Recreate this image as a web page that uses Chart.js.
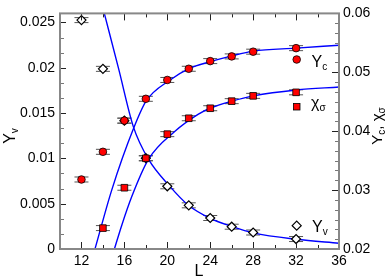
<!DOCTYPE html>
<html>
<head>
<meta charset="utf-8">
<script src="https://cdn.jsdelivr.net/npm/chart.js"></script>
<style>
  body { margin: 0; background: #fff; }
  #wrap { width: 390px; height: 279px; }
</style>
</head>
<body>
<div id="wrap"><canvas id="chart" width="390" height="279"></canvas></div>
<script>
// data
const L = [12, 14, 16, 18, 20, 22, 24, 26, 28, 32];
const Yv = [0.02526, 0.01988, 0.01416, 0.01002, 0.00692, 0.00482, 0.00342, 0.00246, 0.00182, 0.0011];
const Yc = [0.0318, 0.0365, 0.0418, 0.0455, 0.0487, 0.0506, 0.0519, 0.0527, 0.0535, 0.0541];
const chiL = [14, 16, 18, 20, 22, 24, 26, 28, 32];
const chi = [0.02355, 0.0304, 0.0354, 0.0395, 0.0422, 0.0439, 0.0451, 0.0460, 0.0466];

// fitted curves (traced)
const fitVL = [14.13, 15.46, 16.84, 18.24, 20.26, 21.97, 23.99, 26.02, 28.03, 32.02, 36];
const fitV = [0.0260, 0.0199, 0.01348, 0.00991, 0.00688, 0.00482, 0.00338, 0.00249, 0.00178, 0.00107, 0.00064];
const fitCL = [13.26, 14.82, 16.84, 18.02, 20.26, 21.97, 23.99, 26.02, 28.03, 32.02, 36];
const fitC = [0.020, 0.0300, 0.0404, 0.0451, 0.0487, 0.0506, 0.0518, 0.0528, 0.0536, 0.0541, 0.0546];
const fitXL = [15.07, 15.75, 16.69, 18.24, 20.66, 22.9, 23.99, 26.02, 28.03, 32.02, 36];
const fitX = [0.020, 0.0240, 0.0289, 0.0352, 0.0399, 0.0429, 0.0439, 0.0451, 0.0460, 0.0470, 0.0475];

// ticks
const xTicks = [12, 16, 20, 24, 28, 32, 36];
const xMinor = [14, 18, 22, 26, 30, 34];
const yTicks = [0, 0.005, 0.01, 0.015, 0.02, 0.025];
const yLabels = ['0', '0.005', '0.01', '0.015', '0.02', '0.025'];
const y2Ticks = [0.02, 0.03, 0.04, 0.05, 0.06];
const y2Labels = ['0.02', '0.03', '0.04', '0.05', '0.06'];

const pts = (xs, ys) => xs.map((x, i) => ({ x: x, y: ys[i] }));
const FONT = '"Liberation Sans", Arial, sans-serif';

const errorBars = {
    id: 'errorBars',
    beforeDatasetsDraw(chart) {
        const ctx = chart.ctx;
        ctx.save();
        ctx.strokeStyle = '#555';
        ctx.lineWidth = 1;
        chart.data.datasets.forEach((ds, i) => {
            if (!ds.errBars) return;
            chart.getDatasetMeta(i).data.forEach(el => {
                const x = el.x, y = el.y;
                ctx.beginPath();
                ctx.moveTo(x - 7, y - 2.5); ctx.lineTo(x + 7, y - 2.5);
                ctx.moveTo(x - 7, y + 2.5); ctx.lineTo(x + 7, y + 2.5);
                ctx.moveTo(x, y - 2.5); ctx.lineTo(x, y + 2.5);
                ctx.stroke();
            });
        });
        ctx.restore();
    }
};

function richText(ctx, parts, x, y, rot, size, align) {
    ctx.save();
    ctx.translate(x, y);
    ctx.rotate(rot);
    ctx.fillStyle = '#000';
    ctx.textBaseline = 'alphabetic';
    ctx.textAlign = 'left';
    let w = 0;
    parts.forEach(p => {
        ctx.font = (p.sub ? Math.round(size * 0.65) : size) + 'px ' + FONT;
        w += ctx.measureText(p.t).width;
    });
    let cx = align === 'center' ? -w / 2 : 0;
    parts.forEach(p => {
        ctx.font = (p.sub ? Math.round(size * 0.65) : size) + 'px ' + FONT;
        ctx.fillText(p.t, cx, p.sub ? 3 : 0);
        cx += ctx.measureText(p.t).width;
    });
    ctx.restore();
}

const frame = {
    id: 'frame',
    afterDraw(chart) {
        const ctx = chart.ctx;
        const a = chart.chartArea;
        const sx = chart.scales.x, sy = chart.scales.y, sy2 = chart.scales.y2;
        ctx.save();
        // ticks
        ctx.strokeStyle = '#222';
        ctx.lineWidth = 1;
        ctx.beginPath();
        xTicks.forEach(v => {
            const px = Math.round(sx.getPixelForValue(v)) + 0.5;
            ctx.moveTo(px, a.bottom); ctx.lineTo(px, a.bottom - 7);
            ctx.moveTo(px, a.top); ctx.lineTo(px, a.top + 7);
        });
        xMinor.forEach(v => {
            const px = Math.round(sx.getPixelForValue(v)) + 0.5;
            ctx.moveTo(px, a.bottom); ctx.lineTo(px, a.bottom - 4);
            ctx.moveTo(px, a.top); ctx.lineTo(px, a.top + 4);
        });
        yTicks.forEach(v => {
            const py = Math.round(sy.getPixelForValue(v)) + 0.5;
            ctx.moveTo(a.left, py); ctx.lineTo(a.left + 6, py);
        });
        y2Ticks.forEach(v => {
            const py = Math.round(sy2.getPixelForValue(v)) + 0.5;
            ctx.moveTo(a.right, py); ctx.lineTo(a.right - 7, py);
        });
        ctx.stroke();
        ctx.strokeStyle = '#777';
        ctx.beginPath();
        for (let k = 0; k < yTicks.length; k++) {
            for (let j = 1; j < 3; j++) {
                const v = yTicks[k] + j * 0.005 / 3;
                if (v > sy.max) continue;
                const py = Math.round(sy.getPixelForValue(v)) + 0.5;
                ctx.moveTo(a.left, py); ctx.lineTo(a.left + 4, py);
            }
        }
        for (let k = 0; k < y2Ticks.length - 1; k++) {
            for (let j = 1; j < 6; j++) {
                const v = y2Ticks[k] + j * 0.01 / 6;
                const py = Math.round(sy2.getPixelForValue(v)) + 0.5;
                ctx.moveTo(a.right, py); ctx.lineTo(a.right - 4, py);
            }
        }
        ctx.stroke();
        // frame
        ctx.strokeStyle = '#888';
        ctx.lineWidth = 2;
        ctx.strokeRect(a.left, a.top, a.right - a.left, a.bottom - a.top);

        // axis titles
        richText(ctx, [{ t: 'L' }], 199, 276, 0, 16, 'center');
        richText(ctx, [{ t: 'Y' }, { t: 'v', sub: true }], 15, 136, -Math.PI / 2, 16, 'center');
        richText(ctx, [{ t: 'Y' }, { t: 'c', sub: true }, { t: ', ' }, { t: '\u03c7' }, { t: '\u03c3', sub: true }],
            382, 126, -Math.PI / 2, 15, 'center');

        // legend
        const lx = 296.7;
        ctx.lineWidth = 0.8;
        ctx.strokeStyle = '#000';
        ctx.fillStyle = '#ff0000';
        ctx.beginPath(); ctx.arc(lx, 59.5, 3.8, 0, Math.PI * 2); ctx.fill(); ctx.stroke();
        ctx.fillRect(lx - 3.3, 106.7 - 3.3, 6.6, 6.6); ctx.strokeRect(lx - 3.3, 106.7 - 3.3, 6.6, 6.6);
        ctx.fillStyle = '#fff';
        ctx.lineWidth = 1.2;
        ctx.beginPath();
        ctx.moveTo(lx - 4.5, 225.7); ctx.lineTo(lx, 221.2); ctx.lineTo(lx + 4.5, 225.7); ctx.lineTo(lx, 230.2);
        ctx.closePath(); ctx.fill(); ctx.stroke();
        richText(ctx, [{ t: 'Y' }, { t: 'c', sub: true }], 311.5, 66.5, 0, 16, 'left');
        richText(ctx, [{ t: '\u03c7' }, { t: '\u03c3', sub: true }], 311, 108, 0, 16, 'left');
        richText(ctx, [{ t: 'Y' }, { t: 'v', sub: true }], 312, 231.5, 0, 16, 'left');
        ctx.restore();
    }
};

const tickFont = { family: FONT, size: 14 };
const ctx = document.getElementById('chart').getContext('2d');
new Chart(ctx, {
    type: 'scatter',
    data: {
        datasets: [
            { data: pts(L, Yc), yAxisID: 'y2', pointStyle: 'circle', pointRadius: 3.8,
              backgroundColor: '#ff0000', borderColor: '#000', borderWidth: 0.8, errBars: true, order: 1 },
            { data: pts(chiL, chi), yAxisID: 'y2', pointStyle: 'rect', pointRadius: 4.7,
              backgroundColor: '#ff0000', borderColor: '#000', borderWidth: 0.8, errBars: true, order: 2 },
            { data: pts(L, Yv), yAxisID: 'y', pointStyle: 'rectRot', pointRadius: 4.5,
              backgroundColor: '#fff', borderColor: '#000', borderWidth: 1.2, errBars: true, order: 5 },
            { data: pts(fitVL, fitV), yAxisID: 'y', showLine: true, pointRadius: 0, borderColor: '#0000ff',
              borderWidth: 1.4, cubicInterpolationMode: 'monotone', order: 10 },
            { data: pts(fitCL, fitC), yAxisID: 'y2', showLine: true, pointRadius: 0, borderColor: '#0000ff',
              borderWidth: 1.4, cubicInterpolationMode: 'monotone', order: 10 },
            { data: pts(fitXL, fitX), yAxisID: 'y2', showLine: true, pointRadius: 0, borderColor: '#0000ff',
              borderWidth: 1.4, cubicInterpolationMode: 'monotone', order: 10 }
        ]
    },
    options: {
        responsive: false,
        animation: false,
        layout: { autoPadding: false, padding: { top: 6, left: 0, right: 0, bottom: 0 } },
        plugins: { legend: { display: false }, tooltip: { enabled: false } },
        scales: {
            x: {
                type: 'linear', position: 'bottom', min: 10, max: 36,
                grid: { display: false, drawTicks: false, tickLength: 0 },
                border: { display: false },
                ticks: { font: tickFont, color: '#000', padding: 4, autoSkip: false, maxRotation: 0 },
                afterBuildTicks: s => { s.ticks = xTicks.map(v => ({ value: v })); },
                afterFit: s => { s.height = 30; }
            },
            y: {
                type: 'linear', position: 'left', min: 0, max: 0.026,
                grid: { display: false, drawTicks: false, tickLength: 0 },
                border: { display: false },
                ticks: { font: tickFont, color: '#000', padding: 5, callback: (v, i) => yLabels[i] },
                afterBuildTicks: s => { s.ticks = yTicks.map(v => ({ value: v })); },
                afterFit: s => { s.width = 60; }
            },
            y2: {
                type: 'linear', position: 'right', min: 0.02, max: 0.06,
                grid: { display: false, drawTicks: false, tickLength: 0 },
                border: { display: false },
                ticks: { font: tickFont, color: '#000', padding: 4, callback: (v, i) => y2Labels[i] },
                afterBuildTicks: s => { s.ticks = y2Ticks.map(v => ({ value: v })); },
                afterFit: s => { s.width = 51; }
            }
        }
    },
    plugins: [errorBars, frame]
});
</script>
</body>
</html>
